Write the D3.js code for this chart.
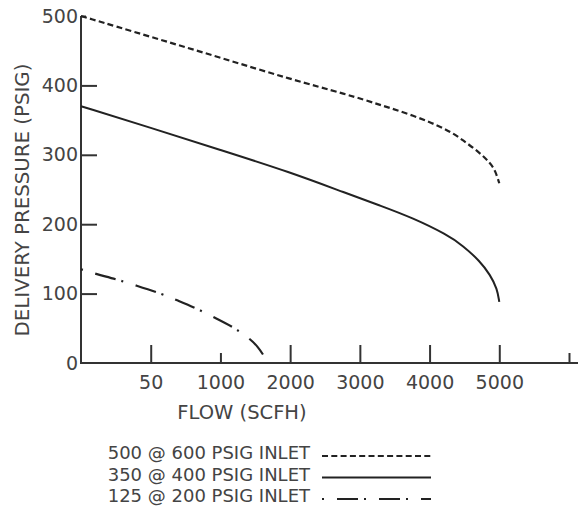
<!DOCTYPE html>
<html>
<head>
<meta charset="utf-8">
<script src="https://cdn.jsdelivr.net/npm/d3@7"></script>
<style>
  body { margin: 0; background: #fff; }
  text { font-family: "DejaVu Sans", sans-serif; fill: #444; }
  .axis line, .axis path { stroke: #333; }
</style>
</head>
<body>
<div id="chart"></div>
<script>
// ---------------------------------------------------------------------------- //
//                                     Data                                     //
// ---------------------------------------------------------------------------- //
var flowTicks      = [50, 1000, 2000, 3000, 4000, 5000, 6000];
var flowTickLabels = ["50", "1000", "2000", "3000", "4000", "5000", ""];
var pressureTicks  = [0, 100, 200, 300, 400, 500];

// 500 @ 600 PSIG INLET
var flowA     = [0, 50, 1000, 2000, 2820, 3290, 3760, 4250, 4480, 4720, 4870, 4940, 5000];
var pressureA = [500, 470, 440, 409, 387, 372, 357, 337, 321, 303, 288, 278, 259];

// 350 @ 400 PSIG INLET
var flowB     = [0, 50, 1000, 2000, 2820, 3290, 3760, 4250, 4480, 4720, 4870, 4970, 5000];
var pressureB = [370, 339, 307, 275, 244, 227, 209, 185, 169, 147, 127, 107, 88];

// 125 @ 200 PSIG INLET
var flowC     = [0, 11, 25, 39, 218, 395, 668, 927, 1181, 1425, 1540, 1625];
var pressureC = [135, 128, 121, 112, 99, 91, 79, 65, 52, 35, 23, 10];

var legendLabels = ["500 @ 600 PSIG INLET", "350 @ 400 PSIG INLET", "125 @ 200 PSIG INLET"];

// ---------------------------------------------------------------------------- //
//                                    Layout                                    //
// ---------------------------------------------------------------------------- //
var W = 578, H = 515;
var margin = {top: 16, right: 9, bottom: 152, left: 81};
var width  = W - margin.left - margin.right;     // up to the last (unlabelled) tick
var height = H - margin.top - margin.bottom;

var DASHED   = "6,3.3";
var DASH_DOT = "2,13,21,6";
var SHORT_X_TICKS = [1000, 6000];

var svg = d3.select("#chart")
    .append("svg")
    .attr("width", W)
    .attr("height", H)
    .append("g")
    .attr("transform", "translate(" + margin.left + "," + margin.top + ")");

// Scales
//_______________
// the flow axis is drawn with equally spaced ticks (0, 50, 1000, ...), so piecewise
var step = width / flowTicks.length;
var x = d3.scaleLinear()
    .domain([0].concat(flowTicks))
    .range(d3.range(flowTicks.length + 1).map(function(i){ return i * step; }));

var y = d3.scaleLinear()
    .domain([0, 500])
    .range([height, 0]);

// X Axis
//_______________
var gx = svg.append("g")
    .attr("class", "axis")
    .attr("transform", "translate(0," + height + ")")
    .call(d3.axisBottom(x)
        .tickValues(flowTicks)
        .tickFormat(function(d, i){ return flowTickLabels[i]; })
        .tickSize(-18)
        .tickSizeOuter(0)
        .tickPadding(13));
gx.select(".domain").remove();
gx.selectAll(".tick line")
    .attr("stroke-width", 2)
    .attr("y2", function(d){ return SHORT_X_TICKS.indexOf(d) >= 0 ? -10 : -18; });
gx.selectAll(".tick text").style("font-size", "19px");

// Y Axis
//_______________
var gy = svg.append("g")
    .attr("class", "axis")
    .call(d3.axisLeft(y)
        .tickValues(pressureTicks)
        .tickSize(-16)
        .tickSizeOuter(0)
        .tickPadding(3));
gy.select(".domain").remove();
gy.selectAll(".tick line")
    .attr("stroke-width", 2)
    .attr("x2", function(d){ return d === 0 ? 0 : (d === 500 ? 5 : 16); });
gy.selectAll(".tick text").style("font-size", "19px");

// Axis lines
svg.append("line")
    .attr("x1", 0).attr("x2", width + margin.right)
    .attr("y1", height).attr("y2", height)
    .attr("stroke", "#333").attr("stroke-width", 2);
svg.append("line")
    .attr("x1", 0).attr("x2", 0)
    .attr("y1", y(500)).attr("y2", height + 1)
    .attr("stroke", "#333").attr("stroke-width", 2);

// Axis labels
svg.append("text")
    .attr("text-anchor", "middle")
    .attr("x", 161)
    .attr("y", height + 56)
    .style("font-size", "19.5px")
    .text("FLOW (SCFH)");

svg.append("text")
    .attr("text-anchor", "middle")
    .attr("transform", "translate(" + (29 - margin.left) + "," + (200 - margin.top) + ") rotate(-90)")
    .style("font-size", "19.8px")
    .text("DELIVERY PRESSURE (PSIG)");

// Series
//_______________
var series = [
    {flow: flowA, pressure: pressureA, dash: DASHED,   width: 2.2},
    {flow: flowB, pressure: pressureB, dash: null,     width: 2},
    {flow: flowC, pressure: pressureC, dash: DASH_DOT, width: 2.2}
];

var line = d3.line()
    .x(function(d){ return x(d[0]); })
    .y(function(d){ return y(d[1]); })
    .curve(d3.curveBasis);

series.forEach(function(s){
    svg.append("path")
        .datum(s.flow.map(function(f, i){ return [f, s.pressure[i]]; }))
        .attr("fill", "none")
        .attr("stroke", "#222")
        .attr("stroke-width", s.width)
        .attr("stroke-dasharray", s.dash)
        .attr("d", line);
});

// Legend
//_______________
var legend = svg.append("g")
    .attr("transform", "translate(" + (310 - margin.left) + "," + (height + 96) + ")");

legendLabels.forEach(function(lbl, i){
    var row = legend.append("g").attr("transform", "translate(0," + (i * 21.5) + ")");
    row.append("text")
        .attr("text-anchor", "end")
        .attr("y", 0)
        .style("font-size", "18px")
        .text(lbl);
    row.append("line")
        .attr("x1", 12).attr("x2", 121)
        .attr("y1", -3).attr("y2", -3)
        .attr("stroke", "#222")
        .attr("stroke-width", series[i].width)
        .attr("stroke-dasharray", series[i].dash);
});
</script>
</body>
</html>
